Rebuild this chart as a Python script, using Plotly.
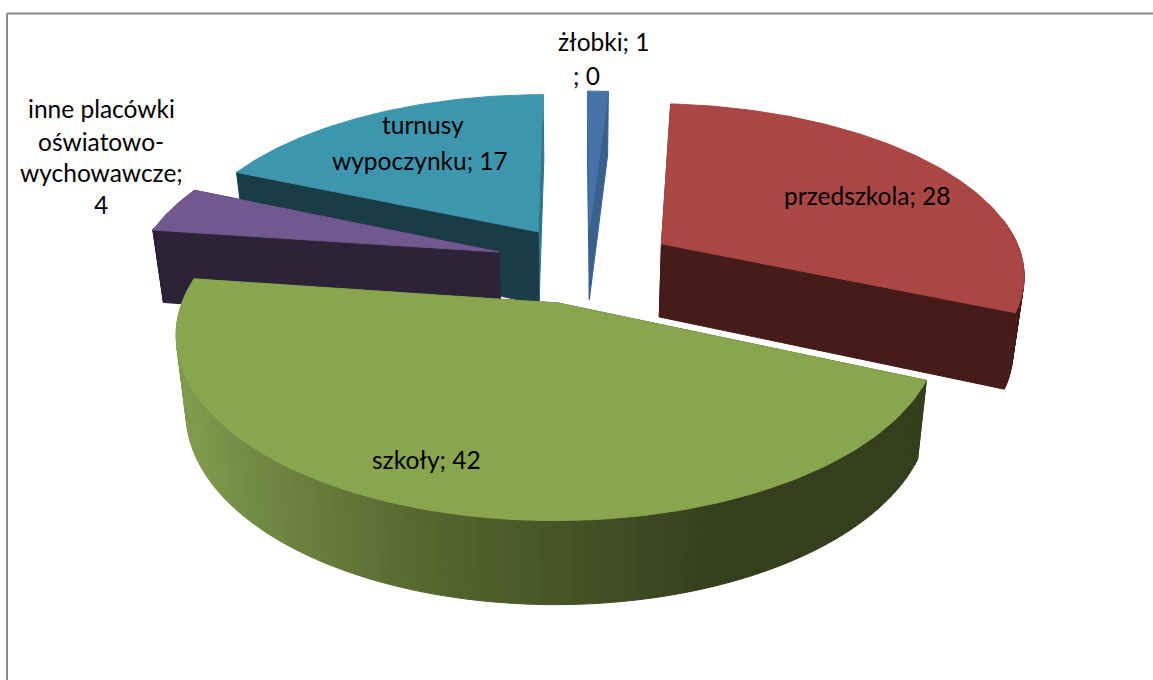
import numpy as np
import plotly.graph_objects as go

# --- data ---
CATEGORIES = ["żłobki", "przedszkola", "szkoły", "inne placówki oświatowo-wychowawcze", "turnusy wypoczynku", ""]
VALUES = [1, 28, 42, 4, 17, 0]
LABEL_LINES = [
    ["żłobki; 1"],
    ["przedszkola; 28"],
    ["szkoły; 42"],
    ["inne placówki", "oświatowo-", "wychowawcze;", "4"],
    ["turnusy", "wypoczynku; 17"],
    ["; 0"],
]

# --- style / layout ---
TOP = ["#4572A7", "#AA4643", "#89A54E", "#71588F", "#3D96AE", "#000000"]
SIDE = ["#3A608E", "#451C19", "#363F1D", "#2D2339", "#1A3C47", "#000000"]
END_FACE = ["#3A608E", "#451C19", "#363F1D", "#2D2339", "#2F7488", "#000000"]
OFFSET = [(0.042, -0.215), (0.243, -0.11), (-0.045, 0.235), (-0.212, -0.06), (-0.105, -0.185), (0, 0)]
DRAW_ORDER = [4, 3, 0, 1, 2]
LABEL_POS = [
    [(603, 41)],
    [(867, 195)],
    [(426, 459)],
    [(101, 108), (101, 141), (101, 172), (101, 204)],
    [(423, 124), (420, 160)],
    [(586, 75)],
]
U0, V0, A, B, K = 575, 262, 362, 168, 0.16
DEPTH, DEPTH_K, BOTTOM_SCALE = 74, 0.11, 0.975
FONT = dict(family="Lato, Carlito, sans-serif", size=24.5, color="#000000")
GRAD_X = [190, 245, 420, 720, 925]
GRAD_RGB = [(127, 154, 76), (115, 140, 69), (86, 104, 47), (54, 63, 29), (54, 63, 29)]


def top_pt(X, Y):
    w = 1 - K * Y
    return U0 + A * X / w, V0 + B * Y / w


def bottom_pt(X, Y):
    u, v = top_pt(X, Y)
    return U0 + (u - U0) * BOTTOM_SCALE, v + DEPTH * (1 + DEPTH_K * Y)


def poly(fig, xs, ys, color):
    fig.add_trace(go.Scatter(x=xs, y=ys, mode="lines", fill="toself", fillcolor=color,
                             line=dict(width=1, color=color),
                             hoverinfo="skip", showlegend=False))


def shade(x):
    c = [np.interp(x, GRAD_X, [g[j] for g in GRAD_RGB]) for j in range(3)]
    return "rgb(%d,%d,%d)" % tuple(c)


fig = go.Figure()
total = sum(VALUES)
cum = np.concatenate([[0], np.cumsum(VALUES)]) / total * 2 * np.pi

for i in DRAW_ORDER:
    ox, oy = OFFSET[i]
    t = np.linspace(cum[i], cum[i + 1], 121)
    RX, RY = ox + np.sin(t), oy - np.cos(t)
    tu, tv = top_pt(RX, RY)
    bu, bv = bottom_pt(RX, RY)
    au, av = top_pt(ox, oy)
    cu, cv = bottom_pt(ox, oy)

    # radial cut faces
    poly(fig, [au, tu[-1], bu[-1], cu, au], [av, tv[-1], bv[-1], cv, av], END_FACE[i])
    poly(fig, [au, tu[0], bu[0], cu, au], [av, tv[0], bv[0], cv, av], SIDE[i])
    # outer wall: one quad per rim step on the viewer-facing part of the rim
    for j in range(len(t) - 1):
        if np.cos((t[j] + t[j + 1]) / 2) > 0.15:
            continue
        color = shade((tu[j] + tu[j + 1]) / 2) if i == 2 else SIDE[i]
        poly(fig, [tu[j], tu[j + 1], bu[j + 1], bu[j], tu[j]],
             [tv[j], tv[j + 1], bv[j + 1], bv[j], tv[j]], color)
    # top face
    poly(fig, np.concatenate([[au], tu, [au]]), np.concatenate([[av], tv, [av]]), TOP[i])

annotations = []
for lines, positions in zip(LABEL_LINES, LABEL_POS):
    for text, (x, y) in zip(lines, positions):
        annotations.append(dict(x=x, y=y, text=text, showarrow=False, xref="x", yref="y", font=FONT))

shapes = [
    dict(type="line", x0=7, y0=13.5, x1=1153, y1=13.5, line=dict(color="#8C8C8C", width=2)),
    dict(type="line", x0=7, y0=13.5, x1=7, y1=680, line=dict(color="#8C8C8C", width=2)),
]

fig.update_layout(
    width=1153, height=680, margin=dict(l=0, r=0, t=0, b=0),
    paper_bgcolor="white", plot_bgcolor="white",
    xaxis=dict(range=[0, 1153], visible=False, fixedrange=True),
    yaxis=dict(range=[680, 0], visible=False, fixedrange=True),
    annotations=annotations, shapes=shapes,
)
fig.write_html("out.html", post_script="document.body.style.margin='0';", config=dict(displayModeBar=False))
